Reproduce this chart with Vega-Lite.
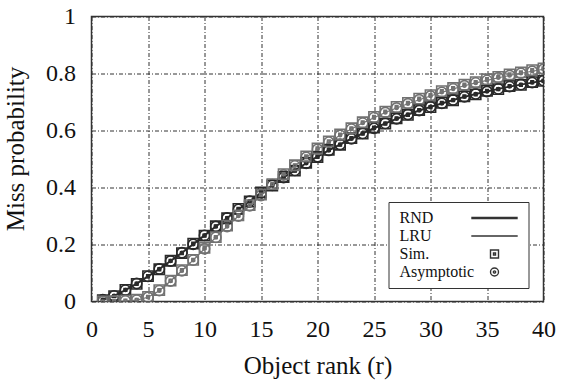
{
  "$schema": "https://vega.github.io/schema/vega-lite/v6.json",
  "autosize": "none",
  "width": 452,
  "height": 285,
  "padding": {"left": 91.5, "top": 16.5, "right": 17.5, "bottom": 81.5},
  "background": "white",
  "config": {
    "view": {"stroke": "#333", "strokeWidth": 1.5},
    "font": "Liberation Serif",
    "axis": {
      "labelFont": "Liberation Serif",
      "titleFont": "Liberation Serif",
      "labelFontSize": 24,
      "titleFontSize": 25,
      "labelColor": "#111",
      "titleColor": "#111",
      "titleFontWeight": "normal",
      "domain": false,
      "ticks": false,
      "grid": true,
      "gridColor": "#333",
      "gridDash": [4, 2, 1, 2],
      "gridWidth": 1,
      "gridOpacity": 1,
      "labelOverlap": false,
      "labelFlush": false
    }
  },
  "data": {
    "values": [
      {"r": 1, "kind": "Asymptotic", "RND": 0.006, "LRU": 0.000},
      {"r": 2, "kind": "Asymptotic", "RND": 0.020, "LRU": 0.001},
      {"r": 3, "kind": "Asymptotic", "RND": 0.040, "LRU": 0.002},
      {"r": 4, "kind": "Asymptotic", "RND": 0.063, "LRU": 0.005},
      {"r": 5, "kind": "Asymptotic", "RND": 0.088, "LRU": 0.015},
      {"r": 6, "kind": "Asymptotic", "RND": 0.114, "LRU": 0.038},
      {"r": 7, "kind": "Asymptotic", "RND": 0.142, "LRU": 0.072},
      {"r": 8, "kind": "Asymptotic", "RND": 0.171, "LRU": 0.108},
      {"r": 9, "kind": "Asymptotic", "RND": 0.201, "LRU": 0.145},
      {"r": 10, "kind": "Asymptotic", "RND": 0.232, "LRU": 0.185},
      {"r": 11, "kind": "Asymptotic", "RND": 0.263, "LRU": 0.225},
      {"r": 12, "kind": "Asymptotic", "RND": 0.293, "LRU": 0.263},
      {"r": 13, "kind": "Asymptotic", "RND": 0.323, "LRU": 0.300},
      {"r": 14, "kind": "Asymptotic", "RND": 0.352, "LRU": 0.336},
      {"r": 15, "kind": "Asymptotic", "RND": 0.381, "LRU": 0.372},
      {"r": 16, "kind": "Asymptotic", "RND": 0.408, "LRU": 0.410},
      {"r": 17, "kind": "Asymptotic", "RND": 0.435, "LRU": 0.444},
      {"r": 18, "kind": "Asymptotic", "RND": 0.460, "LRU": 0.476},
      {"r": 19, "kind": "Asymptotic", "RND": 0.485, "LRU": 0.506},
      {"r": 20, "kind": "Asymptotic", "RND": 0.508, "LRU": 0.534},
      {"r": 21, "kind": "Asymptotic", "RND": 0.530, "LRU": 0.559},
      {"r": 22, "kind": "Asymptotic", "RND": 0.551, "LRU": 0.583},
      {"r": 23, "kind": "Asymptotic", "RND": 0.571, "LRU": 0.605},
      {"r": 24, "kind": "Asymptotic", "RND": 0.590, "LRU": 0.626},
      {"r": 25, "kind": "Asymptotic", "RND": 0.608, "LRU": 0.645},
      {"r": 26, "kind": "Asymptotic", "RND": 0.625, "LRU": 0.663},
      {"r": 27, "kind": "Asymptotic", "RND": 0.641, "LRU": 0.679},
      {"r": 28, "kind": "Asymptotic", "RND": 0.656, "LRU": 0.694},
      {"r": 29, "kind": "Asymptotic", "RND": 0.670, "LRU": 0.708},
      {"r": 30, "kind": "Asymptotic", "RND": 0.683, "LRU": 0.721},
      {"r": 31, "kind": "Asymptotic", "RND": 0.695, "LRU": 0.734},
      {"r": 32, "kind": "Asymptotic", "RND": 0.707, "LRU": 0.746},
      {"r": 33, "kind": "Asymptotic", "RND": 0.718, "LRU": 0.757},
      {"r": 34, "kind": "Asymptotic", "RND": 0.728, "LRU": 0.767},
      {"r": 35, "kind": "Asymptotic", "RND": 0.737, "LRU": 0.776},
      {"r": 36, "kind": "Asymptotic", "RND": 0.746, "LRU": 0.785},
      {"r": 37, "kind": "Asymptotic", "RND": 0.754, "LRU": 0.793},
      {"r": 38, "kind": "Asymptotic", "RND": 0.761, "LRU": 0.801},
      {"r": 39, "kind": "Asymptotic", "RND": 0.768, "LRU": 0.808},
      {"r": 40, "kind": "Asymptotic", "RND": 0.775, "LRU": 0.815},
      {"r": 1, "kind": "Sim.", "RND": 0.005, "LRU": 0.000},
      {"r": 2, "kind": "Sim.", "RND": 0.019, "LRU": 0.001},
      {"r": 3, "kind": "Sim.", "RND": 0.041, "LRU": 0.003},
      {"r": 4, "kind": "Sim.", "RND": 0.062, "LRU": 0.006},
      {"r": 5, "kind": "Sim.", "RND": 0.089, "LRU": 0.016},
      {"r": 6, "kind": "Sim.", "RND": 0.113, "LRU": 0.040},
      {"r": 7, "kind": "Sim.", "RND": 0.143, "LRU": 0.073},
      {"r": 8, "kind": "Sim.", "RND": 0.170, "LRU": 0.110},
      {"r": 9, "kind": "Sim.", "RND": 0.203, "LRU": 0.146},
      {"r": 10, "kind": "Sim.", "RND": 0.231, "LRU": 0.188},
      {"r": 11, "kind": "Sim.", "RND": 0.264, "LRU": 0.226},
      {"r": 12, "kind": "Sim.", "RND": 0.292, "LRU": 0.266},
      {"r": 13, "kind": "Sim.", "RND": 0.325, "LRU": 0.302},
      {"r": 14, "kind": "Sim.", "RND": 0.351, "LRU": 0.338},
      {"r": 15, "kind": "Sim.", "RND": 0.383, "LRU": 0.375},
      {"r": 16, "kind": "Sim.", "RND": 0.407, "LRU": 0.412},
      {"r": 17, "kind": "Sim.", "RND": 0.437, "LRU": 0.447},
      {"r": 18, "kind": "Sim.", "RND": 0.459, "LRU": 0.478},
      {"r": 19, "kind": "Sim.", "RND": 0.487, "LRU": 0.509},
      {"r": 20, "kind": "Sim.", "RND": 0.507, "LRU": 0.537},
      {"r": 21, "kind": "Sim.", "RND": 0.532, "LRU": 0.562},
      {"r": 22, "kind": "Sim.", "RND": 0.550, "LRU": 0.586},
      {"r": 23, "kind": "Sim.", "RND": 0.573, "LRU": 0.608},
      {"r": 24, "kind": "Sim.", "RND": 0.589, "LRU": 0.629},
      {"r": 25, "kind": "Sim.", "RND": 0.610, "LRU": 0.648},
      {"r": 26, "kind": "Sim.", "RND": 0.624, "LRU": 0.666},
      {"r": 27, "kind": "Sim.", "RND": 0.643, "LRU": 0.683},
      {"r": 28, "kind": "Sim.", "RND": 0.655, "LRU": 0.697},
      {"r": 29, "kind": "Sim.", "RND": 0.672, "LRU": 0.712},
      {"r": 30, "kind": "Sim.", "RND": 0.682, "LRU": 0.724},
      {"r": 31, "kind": "Sim.", "RND": 0.697, "LRU": 0.738},
      {"r": 32, "kind": "Sim.", "RND": 0.706, "LRU": 0.749},
      {"r": 33, "kind": "Sim.", "RND": 0.720, "LRU": 0.761},
      {"r": 34, "kind": "Sim.", "RND": 0.727, "LRU": 0.770},
      {"r": 35, "kind": "Sim.", "RND": 0.739, "LRU": 0.780},
      {"r": 36, "kind": "Sim.", "RND": 0.745, "LRU": 0.788},
      {"r": 37, "kind": "Sim.", "RND": 0.756, "LRU": 0.797},
      {"r": 38, "kind": "Sim.", "RND": 0.760, "LRU": 0.804},
      {"r": 39, "kind": "Sim.", "RND": 0.770, "LRU": 0.812},
      {"r": 40, "kind": "Sim.", "RND": 0.774, "LRU": 0.818}
    ]
  },
  "transform": [{"fold": ["RND", "LRU"], "as": ["policy", "p"]}],
  "encoding": {
    "x": {
      "field": "r",
      "type": "quantitative",
      "scale": {"domain": [0, 40], "nice": false, "zero": false},
      "axis": {
        "title": "Object rank (r)",
        "values": [0, 5, 10, 15, 20, 25, 30, 35, 40],
        "labelPadding": 16,
        "titlePadding": 12
      }
    },
    "y": {
      "field": "p",
      "type": "quantitative",
      "scale": {"domain": [0, 1], "nice": false},
      "axis": {
        "title": "Miss probability",
        "values": [0, 0.2, 0.4, 0.6, 0.8, 1],
        "format": "~g",
        "labelPadding": 16,
        "titleX": -63,
        "titleY": 132
      }
    },
    "color": {
      "field": "policy",
      "type": "nominal",
      "scale": {"domain": ["RND", "LRU"], "range": ["#2a2a2a", "#727272"]},
      "legend": null
    }
  },
  "layer": [
    {
      "transform": [{"filter": "datum.kind === 'Asymptotic'"}],
      "mark": {"type": "line", "clip": true},
      "encoding": {
        "strokeWidth": {
          "field": "policy",
          "type": "nominal",
          "scale": {"domain": ["RND", "LRU"], "range": [2, 1.2]},
          "legend": null
        }
      }
    },
    {
      "mark": {"type": "point", "filled": false, "size": 105, "strokeWidth": 1.6, "opacity": 1, "clip": true},
      "encoding": {
        "shape": {
          "field": "kind",
          "type": "nominal",
          "scale": {
            "domain": ["RND", "LRU", "Sim.", "Asymptotic"],
            "range": [
              "M-5.8,-0.13H5.8M-5.8,0.13H5.8",
              "M-5.8,0H5.8",
              "M-1,-1H1V1H-1Z M-0.25,-0.25H0.25V0.25H-0.25Z",
              "M1,0A1,1,0,1,1,-1,0A1,1,0,1,1,1,0Z M0.28,0A0.28,0.28,0,1,1,-0.28,0A0.28,0.28,0,1,1,0.28,0Z"
            ]
          },
          "legend": {
            "title": null,
            "orient": "none",
            "legendX": 297,
            "legendY": 185.5,
            "padding": 8,
            "strokeColor": "#333",
            "fillColor": "white",
            "labelFont": "Liberation Serif",
            "labelFontSize": 16,
            "labelColor": "#111",
            "labelAlign": "left",
            "labelOffset": -103,
            "symbolOffset": 90,
            "rowPadding": 2,
            "symbolSize": 64,
            "symbolStrokeColor": "#333",
            "symbolStrokeWidth": 1.4,
            "symbolFillColor": "transparent",
            "symbolOpacity": 1
          }
        }
      }
    }
  ]
}
